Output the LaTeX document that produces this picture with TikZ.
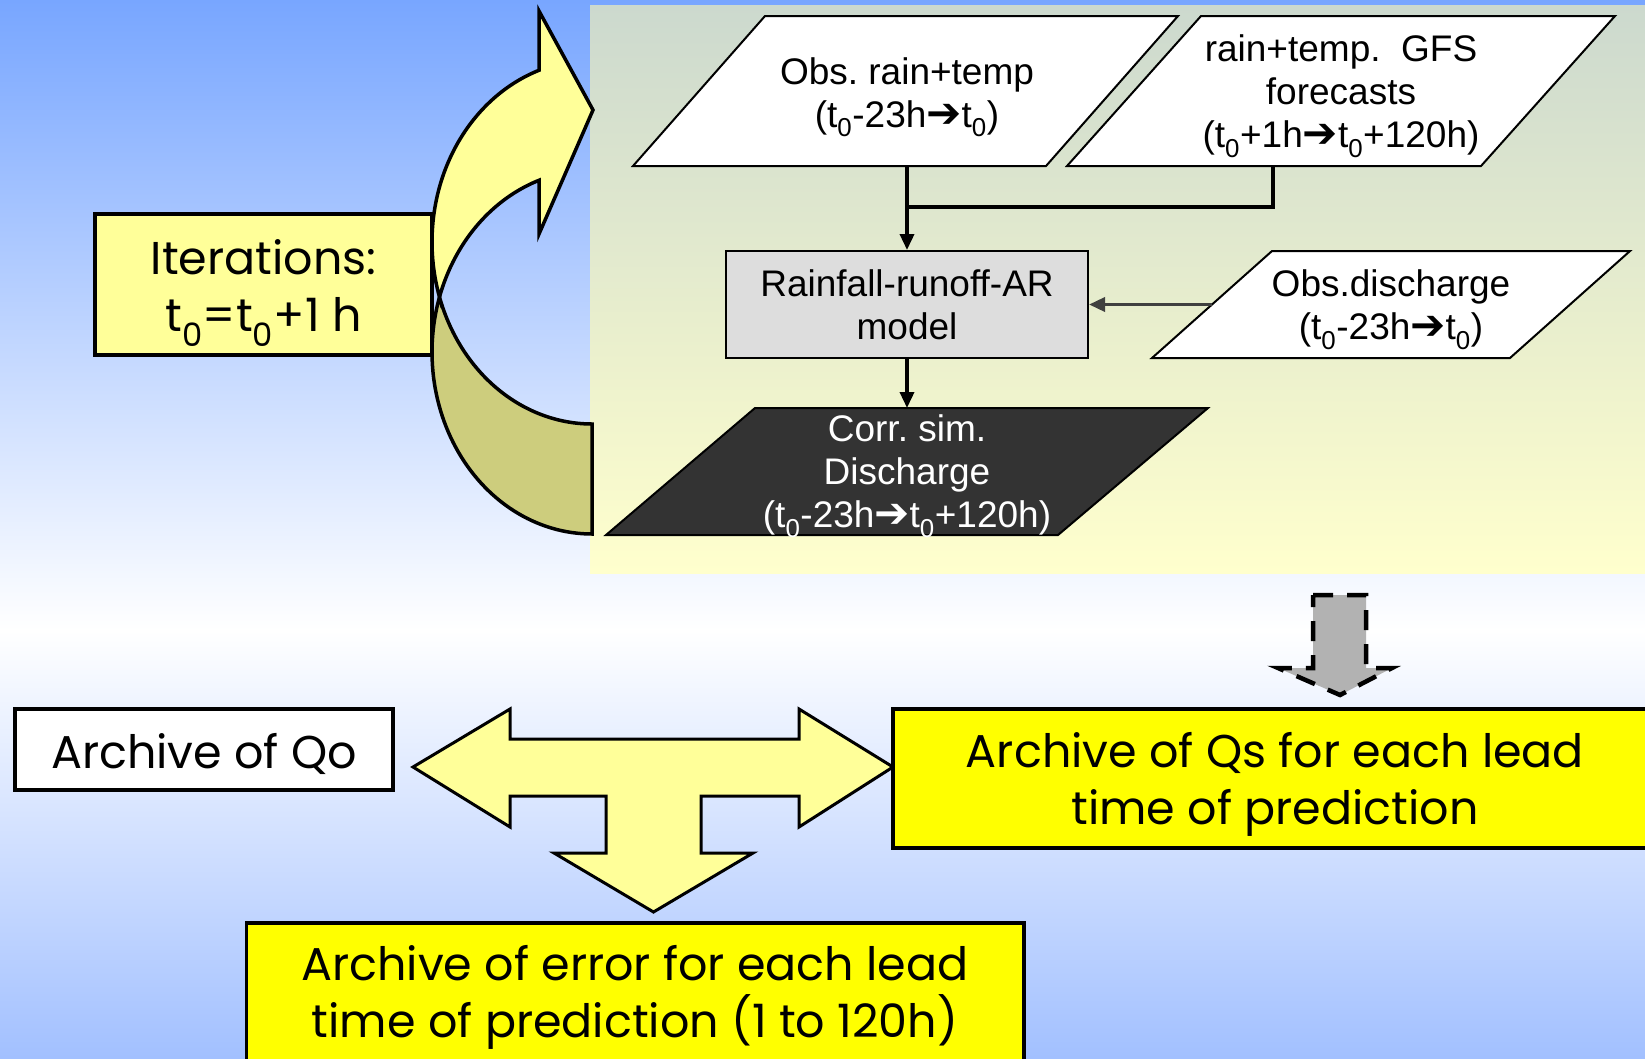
\documentclass[tikz,border=0pt]{standalone}
\usepackage{fontspec}
\setmainfont{Liberation Sans}
\newfontfamily\arialf{Liberation Sans}
\newfontfamily\comicf{Poppins}
\newfontfamily\dejavuf{DejaVu Sans}
\usetikzlibrary{arrows.meta}
\frenchspacing
\definecolor{bgtop}{RGB}{120,166,255}
\definecolor{bgbot}{RGB}{162,192,255}
\definecolor{paneltop}{RGB}{204,217,206}
\definecolor{panelmid}{RGB}{242,244,200}
\definecolor{panelbot}{RGB}{255,255,205}
\definecolor{lyel}{RGB}{255,255,153}
\definecolor{olivey}{RGB}{205,205,125}
\definecolor{ayel}{RGB}{255,255,0}
\definecolor{mgray}{RGB}{221,221,221}
\definecolor{dgray}{RGB}{51,51,51}
\definecolor{agray}{RGB}{178,178,178}
\definecolor{arrgray}{RGB}{64,64,64}
\newcommand{\tz}{t\textsubscript{0}}
\newcommand{\rarr}{{\dejavuf\bfseries\fontsize{42pt}{43pt}\selectfont ➔}}
\tikzset{
  flowtxt/.style={font={\arialf\fontsize{37pt}{43pt}\selectfont\frenchspacing}, align=center, inner sep=0pt},
  comictxt/.style={font={\comicf\fontsize{46pt}{57pt}\selectfont}, align=center},
  paral/.style={draw=black, line width=2pt, fill=white},
  flow/.style={line width=3.5pt, -{Triangle[length=16pt,width=14pt]}},
  boxline/.style={draw=black, line width=3.5pt},
  yelarrow/.style={draw=black, line width=3pt, fill=lyel, line join=miter},
  bandline/.style={draw=black, line width=3.5pt, line join=miter},
}
\begin{document}
\begin{tikzpicture}[x=1pt,y=-1pt]
\useasboundingbox (0,0) rectangle (1645,1058);
\clip (0,0) rectangle (1645,1058);
% background
\shade[top color=bgtop, bottom color=white] (0,0) rectangle (1645,631);
\shade[top color=white, bottom color=bgbot] (0,630) rectangle (1645,1058);
% panel
\shade[top color=paneltop, middle color=panelmid, bottom color=panelbot] (590,5) rectangle (1645,573);

% curved arrow: back (dark) band
\draw[bandline, fill=olivey]
  plot[domain=17.6:-90, samples=60] ({592-160*cos(\x)},{352-182*sin(\x)})
  -- plot[domain=-90:-17.6, samples=60] ({592-160*cos(\x)},{242-182*sin(\x)})
  -- cycle;
% front (light) band with head
\draw[bandline, fill=lyel]
  plot[domain=70.66:-17.6, samples=60] ({592-160*cos(\x)},{242-182*sin(\x)})
  -- plot[domain=17.6:70.66, samples=60] ({592-160*cos(\x)},{352-182*sin(\x)})
  -- (539,234) -- (593,110) -- (539,11) -- cycle;

% iterations box
\draw[boxline, fill=lyel] (95,214) rectangle (432,355);
\node[comictxt, inner sep=0pt] (iter) at (263.5,293) {Iterations:\\\tz=\tz+1 h};

% flowchart
\draw[paral] (765,16) -- (1178,16) -- (1046,166) -- (633,166) -- cycle;
\node[flowtxt] (rain) at (907,97) {Obs. rain+temp\\(\tz-23h\rarr\tz)};
\coordinate (rainB) at (907,166);

\draw[paral] (1201,16) -- (1615,16) -- (1481,166) -- (1067,166) -- cycle;
\node[flowtxt] (gfs) at (1341,96) {rain+temp.\ \ GFS\\forecasts\\(\tz+1h\rarr\tz+120h)};
\coordinate (gfsB) at (1273,166);
\coordinate (junc) at (907,207);

\node[flowtxt, draw=black, line width=2pt, fill=mgray, minimum width=362pt, minimum height=107pt] (model) at (907,304.5) {Rainfall-runoff-AR\\model};

\draw[paral] (1272,251) -- (1630,251) -- (1510,358) -- (1152,358) -- cycle;
\node[flowtxt] (dis) at (1391,309.5) {Obs.discharge\\(\tz-23h\rarr\tz)};
\coordinate (disL) at (1212,304.5);

\draw[paral, fill=dgray] (755,408) -- (1208,408) -- (1058,535) -- (606,535) -- cycle;
\node[flowtxt, text=white] (corr) at (907,476) {Corr. sim.\\Discharge\\(\tz-23h\rarr\tz+120h)};
\coordinate (corrT) at (907,408);

\draw[flow] (rainB) -- (model.north);
\draw[line width=3.5pt] (gfsB) |- (junc);
\draw[flow, draw=arrgray] (disL) -- (model.east);
\draw[flow] (model.south) -- (corrT);

% dashed grey down arrow
\draw[line width=4.5pt, dash pattern=on 20pt off 14pt, fill=agray] (1313,595) -- (1366,595) -- (1366,668) -- (1392,668) -- (1340,695) -- (1278,668) -- (1313,668) -- cycle;

% T-shaped three-way arrow
\draw[yelarrow] (413,767) -- (510,709) -- (510,739) -- (799,739) -- (799,709) -- (893,767) -- (799,827) -- (799,796) -- (701,796) -- (701,853) -- (753,853) -- (653.5,912) -- (554,853) -- (606,853) -- (606,796) -- (510,796) -- (510,827) -- cycle;

% archive boxes
\draw[boxline, fill=white] (15,709) rectangle (393,790);
\node[comictxt, inner sep=0pt] (qo) at (204,754) {Archive of Qo};
\draw[boxline, fill=ayel] (893,709) rectangle (1660,848);
\node[comictxt, inner sep=0pt] (qs) at (1275,784) {Archive of Qs for each lead\\time of prediction};
\draw[boxline, fill=ayel] (246.5,923) rectangle (1024,1062);
\node[comictxt, inner sep=0pt] (err) at (635,997) {Archive of error for each lead\\time of prediction (1 to 120h)};
\end{tikzpicture}
\end{document}
